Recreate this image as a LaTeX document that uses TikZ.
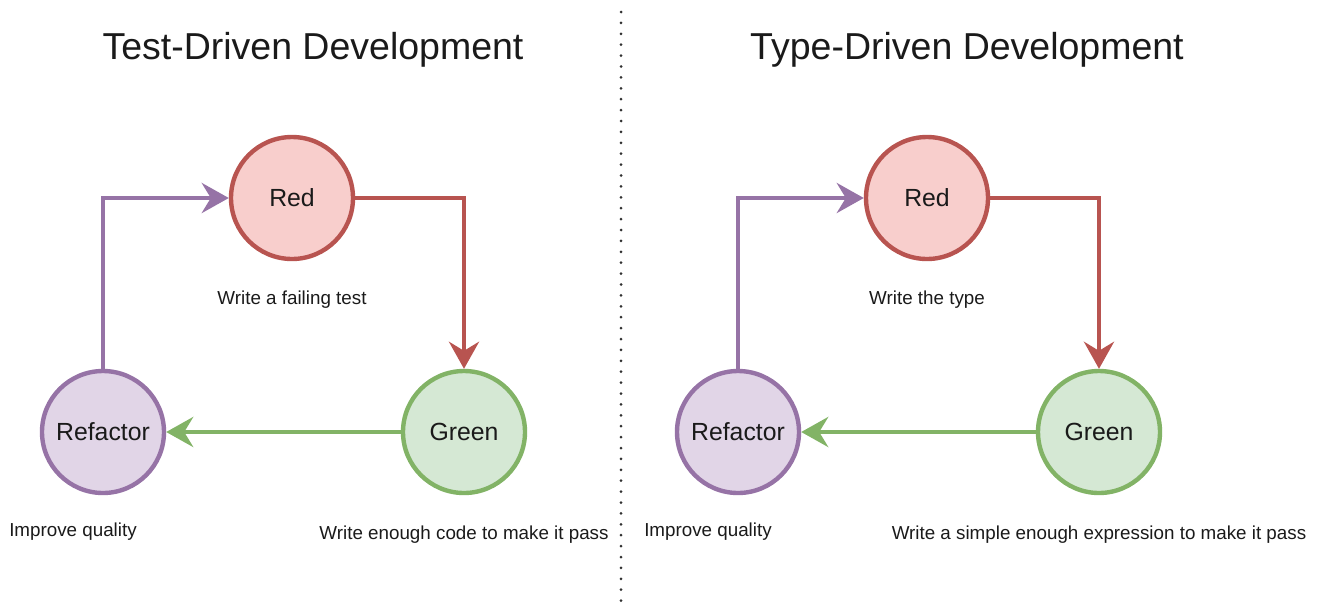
\documentclass[tikz,border=0pt]{standalone}
\usepackage{fontspec}
\setmainfont{Liberation Sans}
\usetikzlibrary{arrows.meta}

\definecolor{redfill}{HTML}{F8CECC}
\definecolor{reddraw}{HTML}{B85450}
\definecolor{greenfill}{HTML}{D5E8D4}
\definecolor{greendraw}{HTML}{82B366}
\definecolor{purplefill}{HTML}{E1D5E7}
\definecolor{purpledraw}{HTML}{9673A6}
\definecolor{ink}{HTML}{1A1A1A}

\begin{document}
\begin{tikzpicture}[x=1pt,y=-1pt,
                    every node/.style={text=ink},
                    state/.style={circle,line width=4.4pt,minimum size=122pt,inner sep=0pt,font=\fontsize{24.8}{28}\selectfont},
                    title/.style={font=\fontsize{37.5}{42}\selectfont},
                    note/.style={font=\fontsize{18.8}{22}\selectfont},
                    flow/.style={line width=4.4pt,-{Stealth[length=27pt,width=30pt,inset=9pt]}}]
  \useasboundingbox (0,0) rectangle (1320,606);

  % left: tests first
  \node[title]                                    (ttitle)  at (313,50)  {Test-Driven Development};
  \node[state,draw=reddraw,fill=redfill]          (tred)    at (292,198) {Red};
  \node[state,draw=greendraw,fill=greenfill]      (tgreen)  at (464,432) {Green};
  \node[state,draw=purpledraw,fill=purplefill]    (trefac)  at (103,432) {Refactor};
  \node[note]                                     (tredn)   at (292,300) {Write a failing test};
  \node[note]                                     (tgreenn) at (464,535) {Write enough code to make it pass};
  \node[note]                                     (trefacn) at (73,532)  {Improve quality};
  \draw[flow,reddraw]    (tred.east) -| (tgreen.north);
  \draw[flow,greendraw]  (tgreen.west) -- (trefac.east);
  \draw[flow,purpledraw] (trefac.north) |- (tred.west);

  % separator
  \coordinate (stop) at (621,12);
  \coordinate (sbot) at (621,604);
  \draw[line width=3pt,line cap=round,dash pattern=on 0pt off 10.9pt,color=ink!90] (stop) -- (sbot);

  % right: types first
  \node[title]                                    (ytitle)  at (967,50)  {Type-Driven Development};
  \node[state,draw=reddraw,fill=redfill]          (yred)    at (927,198) {Red};
  \node[state,draw=greendraw,fill=greenfill]      (ygreen)  at (1099,432) {Green};
  \node[state,draw=purpledraw,fill=purplefill]    (yrefac)  at (738,432) {Refactor};
  \node[note]                                     (yredn)   at (927,300) {Write the type};
  \node[note]                                     (ygreenn) at (1099,535) {Write a simple enough expression to make it pass};
  \node[note]                                     (yrefacn) at (708,532) {Improve quality};
  \draw[flow,reddraw]    (yred.east) -| (ygreen.north);
  \draw[flow,greendraw]  (ygreen.west) -- (yrefac.east);
  \draw[flow,purpledraw] (yrefac.north) |- (yred.west);
\end{tikzpicture}
\end{document}
